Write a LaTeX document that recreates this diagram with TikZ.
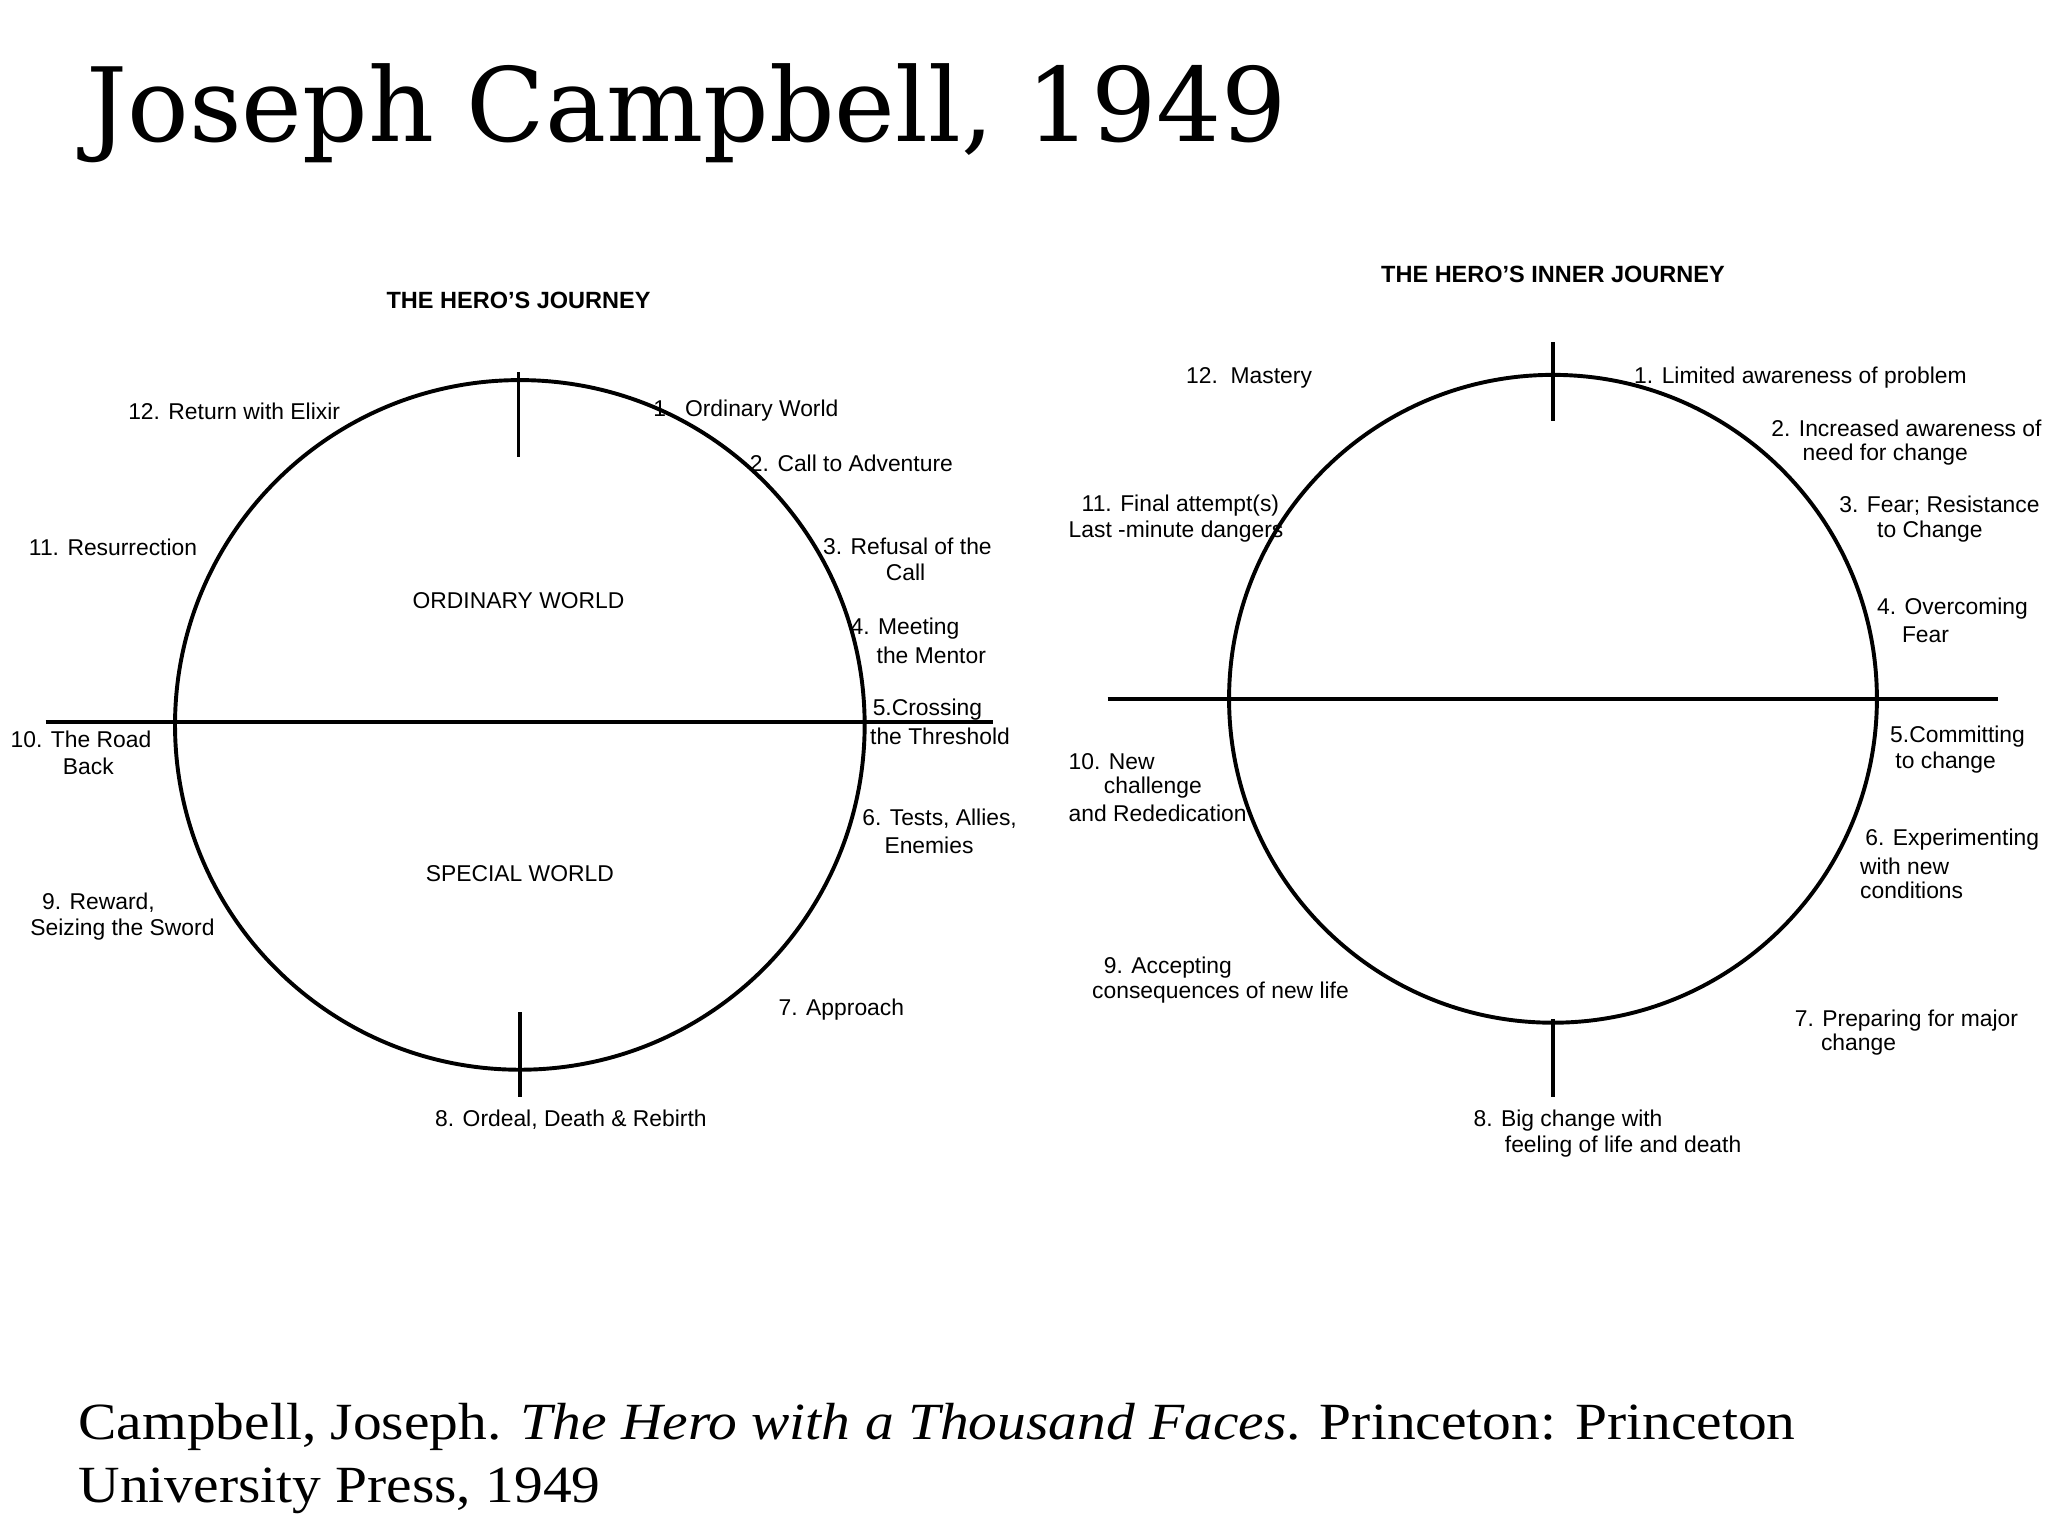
\documentclass[tikz,border=0pt]{standalone}
\usepackage{fontspec}
\setmainfont{Liberation Sans}
\newfontfamily\titlefont{DejaVu Serif}
\newfontfamily\citefont[FakeStretch=1.1]{Liberation Serif}
\begin{document}
\begin{tikzpicture}[x=1pt,y=-1pt,
  lab/.style={font=\fontsize{17.5}{20}\selectfont,inner sep=0pt,anchor=west},
  head/.style={font=\fontsize{18}{20}\selectfont\bfseries,inner sep=0pt},
  heavy/.style={line width=3pt}]
\useasboundingbox (0,0) rectangle (1568,1176);
\newcommand\tl[4]{\node[lab] (#1) at (#2,#3) {#4};}
% title
\node[font=\fontsize{78.5}{80}\selectfont\titlefont,anchor=base west,inner sep=0pt] (title) at (66,108) {Joseph Campbell, 1949};
\node[font=\fontsize{40}{48}\selectfont\citefont,anchor=base west,inner sep=0pt] (cite1) at (60,1102) {Campbell, Joseph. \textit{The Hero with a Thousand Faces}. Princeton: Princeton};
\node[font=\fontsize{40}{48}\selectfont\citefont,anchor=base west,inner sep=0pt] (cite2) at (60,1150) {University Press, 1949};
% left diagram
\node[draw,heavy,circle,minimum size=528pt,inner sep=0pt] (c1) at (398,555) {};
\coordinate (l1a) at (35,553); \coordinate (l1b) at (760,553);
\draw[heavy] (l1a) -- (l1b);
\coordinate (t1a) at (397,285); \coordinate (t1b) at (397,350);
\draw[heavy] (t1a) -- (t1b);
\coordinate (b1a) at (398,775); \coordinate (b1b) at (398,840);
\draw[heavy] (b1a) -- (b1b);
\node[head] (h1) at (397,230) {THE HERO’S JOURNEY};
\node[lab,anchor=center] (ow) at (397,460) {ORDINARY WORLD};
\node[lab,anchor=center] (sw) at (398,669) {SPECIAL WORLD};
\tl{a12}{98}{315}{12. Return with Elixir}
\tl{a1}{500}{314}{1.\ \ Ordinary World}
\tl{a2}{574}{355}{2. Call to Adventure}
\tl{a3a}{630}{418}{3. Refusal of the}
\tl{a3b}{678}{438}{Call}
\tl{a11}{22}{419}{11. Resurrection}
\tl{a4a}{651}{481}{4. Meeting}
\tl{a4b}{671}{502}{the Mentor}
\tl{a5a}{668}{543}{5.Crossing}
\tl{a5b}{666}{564}{the Threshold}
\tl{a10a}{8}{566}{10. The Road}
\tl{a10b}{48}{587}{Back}
\tl{a6a}{660}{627}{6. Tests, Allies,}
\tl{a6b}{677}{647}{Enemies}
\tl{a9a}{32}{691}{9. Reward,}
\tl{a9b}{23}{712}{Seizing the Sword}
\tl{a7}{596}{773}{7. Approach}
\tl{a8}{333}{857}{8. Ordeal, Death \& Rebirth}
% right diagram
\node[draw,heavy,circle,minimum size=496pt,inner sep=0pt] (c2) at (1189,535) {};
\coordinate (l2a) at (848,535); \coordinate (l2b) at (1530,535);
\draw[heavy] (l2a) -- (l2b);
\coordinate (t2a) at (1189,262); \coordinate (t2b) at (1189,322);
\draw[heavy] (t2a) -- (t2b);
\coordinate (b2a) at (1189,780); \coordinate (b2b) at (1189,840);
\draw[heavy] (b2a) -- (b2b);
\node[head] (h2) at (1189,210) {THE HERO’S INNER JOURNEY};
\tl{r12}{908}{289}{12.\ \ Mastery}
\tl{r1}{1251}{289}{1. Limited awareness of problem}
\tl{r2a}{1356}{328}{2. Increased awareness of}
\tl{r2b}{1380}{348}{need for change}
\tl{r11a}{828}{387}{11. Final attempt(s)}
\tl{r11b}{818}{407}{Last -minute dangers}
\tl{r3a}{1408}{387}{3. Fear; Resistance}
\tl{r3b}{1437}{407}{to Change}
\tl{r4a}{1437}{466}{4. Overcoming}
\tl{r4b}{1456}{486}{Fear}
\tl{r5a}{1447}{564}{5.Committing}
\tl{r5b}{1451}{584}{to change}
\tl{r10a}{818}{583}{10. New}
\tl{r10b}{845}{603}{challenge}
\tl{r10c}{818}{623}{and Rededication}
\tl{r6a}{1428}{643}{6. Experimenting}
\tl{r6b}{1424}{663}{with new}
\tl{r6c}{1424}{682}{conditions}
\tl{r9a}{845}{741}{9. Accepting}
\tl{r9b}{836}{760}{consequences of new life}
\tl{r7a}{1374}{781}{7. Preparing for major}
\tl{r7b}{1394}{800}{change}
\tl{r8a}{1128}{858}{8. Big change with}
\tl{r8b}{1152}{878}{feeling of life and death}
\end{tikzpicture}
\end{document}
